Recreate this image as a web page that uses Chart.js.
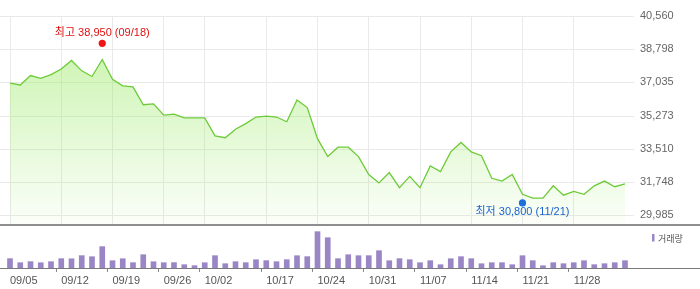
<!DOCTYPE html>
<html><head><meta charset="utf-8">
<script src="https://cdn.jsdelivr.net/npm/chart.js@4/dist/chart.umd.min.js"></script>
<style>
html,body{margin:0;padding:0;background:#fff;overflow:hidden;}
#wrap{position:relative;width:700px;height:289px;}
#price{position:absolute;left:0;top:0;}
#vol{position:absolute;left:0;top:226px;}
</style></head><body>
<div id="wrap"><canvas id="price" width="700" height="226"></canvas><canvas id="vol" width="700" height="63"></canvas></div>
<script>
const dates = ['09/05','09/06','09/07','09/08','09/11','09/12','09/13','09/14','09/15','09/18',
  '09/19','09/20','09/21','09/22','09/25','09/26','09/27','09/28','09/29','10/02',
  '10/10','10/11','10/12','10/13','10/16','10/17','10/18','10/19','10/20','10/23',
  '10/24','10/25','10/26','10/27','10/30','10/31','11/01','11/02','11/03','11/06',
  '11/07','11/08','11/09','11/10','11/13','11/14','11/15','11/16','11/17','11/20',
  '11/21','11/22','11/23','11/24','11/27','11/28','11/29','11/30','12/01','12/04','12/05'];
const tickLabels = ['09/05','09/12','09/19','09/26','10/02','10/17','10/24','10/31','11/07','11/14','11/21','11/28'];
const closePrices = [37000,36900,37400,37250,37450,37750,38200,37650,37350,38250,
  37200,36850,36800,35850,35900,35300,35350,35150,35150,35150,
  34200,34100,34550,34850,35200,35250,35200,34950,36100,35700,
  34050,33100,33600,33600,33100,32150,31700,32250,31450,32050,
  31450,32600,32300,33350,33850,33350,33150,31950,31800,32150,
  31100,30900,30900,31550,31050,31250,31100,31550,31800,31500,31650];
const volumes = [46820,26540,31760,26310,31490,46700,46150,61830,56420,106900,
  36480,46310,26720,66540,31280,26450,26910,16580,11620,26390,
  61720,21480,31560,26620,41380,36720,31450,41630,61490,56780,
  181600,151400,46620,66380,61550,61720,86540,36390,46710,41560,
  26480,36620,16540,46430,56610,46580,21390,26570,26610,16480,
  61530,36580,11470,26620,21540,26470,36520,16610,21480,26530,36640];
const yTickValues = [29985, 31747.5, 33510, 35272.5, 37035, 38797.5, 40560];
const highPoint = {date:'09/18', value:38950, label:'최고'};
const lowPoint = {date:'11/21', value:30800, label:'최저'};
const volumeLabel = '거래량';

const fmt = v => Math.round(v).toLocaleString('en-US');
const FONT = '"Liberation Sans", Arial, "Noto Sans CJK KR", sans-serif';

const priceDecor = {
  id:'priceDecor',
  beforeDatasetsDraw(chart){
    const {ctx, chartArea, scales:{y}} = chart;
    ctx.save();
    ctx.strokeStyle = '#e9e9e9'; ctx.lineWidth = 1;
    y.ticks.forEach(t => {
      const py = Math.round(y.getPixelForValue(t.value)) + 0.5;
      ctx.beginPath(); ctx.moveTo(0, py); ctx.lineTo(chartArea.right + 9, py); ctx.stroke();
    });
    ctx.restore();
  },
  afterDatasetsDraw(chart){
    const {ctx, chartArea, scales:{x,y}} = chart;
    ctx.save();
    ctx.strokeStyle = '#8e8e8e'; ctx.lineWidth = 2;
    ctx.beginPath(); ctx.moveTo(0, chartArea.bottom); ctx.lineTo(chart.width, chartArea.bottom); ctx.stroke();
    const marks = [
      {p:highPoint, color:'#f01414', tcolor:'#e01010', dot:-3, txt:-10.8},
      {p:lowPoint, color:'#1d6fdc', tcolor:'#1a64d0', dot:3, txt:8.7}
    ];
    marks.forEach(m => {
      const px = x.getPixelForValue(dates.indexOf(m.p.date));
      const py = y.getPixelForValue(m.p.value) + m.dot;
      ctx.fillStyle = m.color;
      ctx.beginPath(); ctx.arc(px, py, 3.6, 0, Math.PI*2); ctx.fill();
      ctx.fillStyle = m.tcolor;
      ctx.font = '11px ' + FONT;
      ctx.textAlign = 'center'; ctx.textBaseline = 'middle';
      ctx.fillText(m.p.label + ' ' + fmt(m.p.value) + ' (' + m.p.date + ')', px, py + m.txt);
    });
    ctx.restore();
  }
};

new Chart(document.getElementById('price'), {
  type:'line',
  data:{ labels: dates, datasets:[{
    data: closePrices,
    borderColor:'#6ccb36', borderWidth:1.3, pointRadius:0, tension:0,
    fill:'start',
    backgroundColor:(c)=>{ const {ctx, chartArea} = c.chart; if(!chartArea) return 'rgba(0,0,0,0)';
      const g = ctx.createLinearGradient(0, chartArea.top, 0, chartArea.bottom);
      g.addColorStop(0,'rgba(160,235,110,0.62)'); g.addColorStop(1,'rgba(160,235,110,0.04)'); return g; }
  }]},
  options:{
    responsive:false, animation:false, events:[],
    layout:{padding:{left:10, top:16, right:0, bottom:1}},
    plugins:{legend:{display:false}, tooltip:{enabled:false}},
    scales:{
      x:{ type:'category', offset:false,
        afterFit:(s)=>{ s.height = 0; s.paddingLeft = 0; s.paddingRight = 0; s.paddingTop = 0; s.paddingBottom = 0; },
        grid:{ drawTicks:false, lineWidth:1,
          color:(c)=> (c.tick && tickLabels.includes(dates[c.tick.value])) ? '#e9e9e9' : 'rgba(0,0,0,0)' },
        border:{display:false},
        ticks:{display:false, autoSkip:false} },
      y:{ position:'right', min:29470, max:40560,
        afterBuildTicks:(s)=>{ s.ticks = yTickValues.map(v=>({value:v})); },
        afterFit:(s)=>{ s.width = 75; s.paddingTop = 0; s.paddingBottom = 0; },
        grid:{display:false, drawTicks:false}, border:{display:false},
        ticks:{ callback:(v)=>fmt(v), font:{family:FONT, size:11}, color:'#666', padding:15 } }
    }
  },
  plugins:[priceDecor]
});

const volDecor = {
  id:'volDecor',
  afterDatasetsDraw(chart){
    const {ctx, chartArea} = chart;
    ctx.save();
    ctx.strokeStyle = '#7a7a7a'; ctx.lineWidth = 1;
    const by = Math.round(chartArea.bottom) + 0.5;
    ctx.beginPath(); ctx.moveTo(0, by); ctx.lineTo(chart.width, by); ctx.stroke();
    ctx.fillStyle = '#9a85c5';
    ctx.fillRect(chartArea.right + 27, chartArea.top + 6, 2.5, 7.5);
    ctx.fillStyle = '#555';
    ctx.font = '9px "Noto Sans CJK KR", sans-serif';
    ctx.textAlign = 'left'; ctx.textBaseline = 'middle';
    ctx.fillText(volumeLabel, chartArea.right + 33, chartArea.top + 10.5);
    ctx.restore();
  }
};

new Chart(document.getElementById('vol'), {
  type:'bar',
  data:{ labels: dates, datasets:[{ data: volumes, backgroundColor:'#9a85c5', barThickness:5, clip:false }]},
  options:{
    responsive:false, animation:false, events:[],
    layout:{padding:{left:10, top:2, right:0, bottom:0}},
    plugins:{legend:{display:false}, tooltip:{enabled:false}},
    scales:{
      x:{ type:'category', offset:false,
        afterFit:(s)=>{ s.height = 21; },
        grid:{ drawOnChartArea:false, drawTicks:true, tickLength:4,
          color:(c)=> (c.tick && tickLabels.includes(dates[c.tick.value])) ? '#888' : 'rgba(0,0,0,0)' },
        border:{display:false},
        ticks:{ autoSkip:false, maxRotation:0, minRotation:0, align:'start', padding:2,
          font:{family:FONT, size:11}, color:'#555',
          callback:(v)=> tickLabels.includes(dates[v]) ? dates[v] : '' } },
      y:{ position:'right', min:0, max:200000,
        afterFit:(s)=>{ s.width = 75; },
        grid:{display:false, drawTicks:false}, border:{display:false}, ticks:{display:false} }
    }
  },
  plugins:[volDecor]
});
</script>
</body></html>
